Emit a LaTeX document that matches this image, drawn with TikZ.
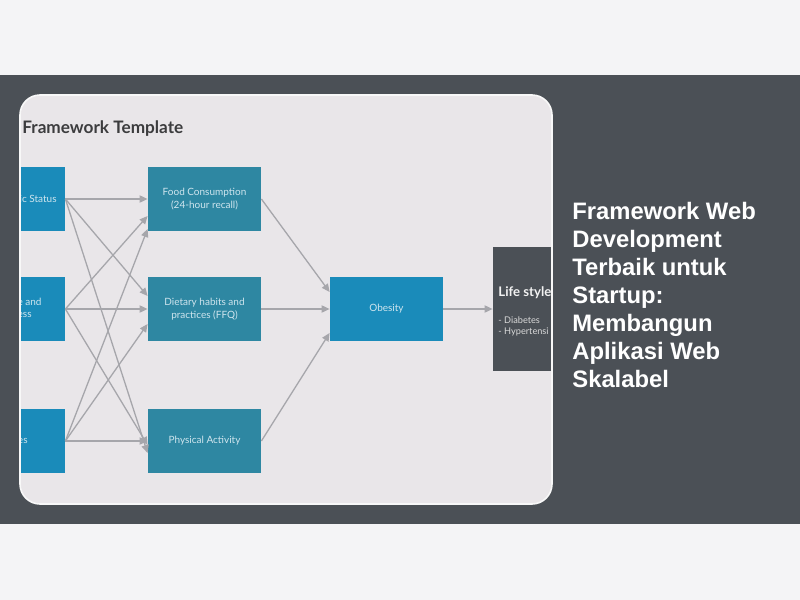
\documentclass[tikz,border=0pt]{standalone}
\usepackage{fontspec}
\setmainfont{Liberation Sans}
\newfontfamily\latofont{Lato}
\usetikzlibrary{arrows.meta}
\definecolor{pagebg}{HTML}{F4F4F6}
\definecolor{bandgray}{HTML}{4B5056}
\definecolor{cardbg}{HTML}{E9E6E9}
\definecolor{srcblue}{HTML}{1A8BBA}
\definecolor{midteal}{HTML}{2E87A2}
\definecolor{linkgray}{HTML}{A6A6AB}
\definecolor{boxtext}{HTML}{CFE5EE}
\definecolor{titlegray}{HTML}{3C3C3E}
\tikzset{
  srcbox/.style={fill=srcblue, minimum width=56.5pt, minimum height=32pt, inner sep=0pt},
  midbox/.style={fill=midteal, minimum width=56.5pt, minimum height=32pt, inner sep=0pt,
    text=boxtext, align=center, font=\latofont\fontsize{5}{6.5}\selectfont},
  boxlabel/.style={text=boxtext, inner sep=0pt, font=\latofont\fontsize{5}{6.5}\selectfont},
  link/.style={draw=linkgray, line width=0.65pt, -{Triangle[length=4pt,width=3.6pt]}}
}
\begin{document}
\begin{tikzpicture}[x=0.5pt,y=0.5pt]
\useasboundingbox (0,0) rectangle (800,-600);
\fill[pagebg] (0,0) rectangle (800,-600);
\fill[bandgray] (0,-75) rectangle (800,-524);
\begin{scope}
\clip[rounded corners=10pt] (20,-95) rectangle (552,-504);
\fill[cardbg] (20,-95) rectangle (552,-504);
\node at (22,-133) [anchor=base west, inner sep=0pt, text=titlegray,
  font=\latofont\bfseries\fontsize{8.6}{10}\selectfont] {Framework Template};
% left column
\node (srctop) at (8.5,-199) [srcbox] {};
\node (srcmid) at (8.5,-309) [srcbox] {};
\node (srcbot) at (8.5,-441) [srcbox] {};
\node at (57,-199) [anchor=east, boxlabel] {ic Status};
\node at (42,-302) [anchor=east, boxlabel] {e and};
\node at (32,-315) [anchor=east, boxlabel] {ess};
\node at (28,-441) [anchor=east, boxlabel] {es};
% middle column
\node (food) at (204.5,-199) [midbox] {Food Consumption\\(24-hour recall)};
\node (diet) at (204.5,-309) [midbox] {Dietary habits and\\practices (FFQ)};
\node (activity) at (204.5,-441) [midbox] {Physical Activity};
% outcome
\node (obesity) at (386.5,-309) [srcbox, text=boxtext, font=\latofont\fontsize{5}{6.5}\selectfont] {Obesity};
\node (lifestyle) at (549.5,-309) [fill=bandgray, minimum width=56.5pt, minimum height=62pt, inner sep=0pt] {};
\node at (498,-296) [anchor=base west, inner sep=0pt, text=white!95!black,
  font=\latofont\bfseries\fontsize{6.6}{8}\selectfont] {Life style};
\node at (498,-320) [anchor=west, inner sep=0pt, text=white!85!black,
  font=\latofont\fontsize{4.6}{6}\selectfont] {- Diabetes};
\node at (498,-332) [anchor=west, inner sep=0pt, text=white!85!black,
  font=\latofont\fontsize{4.6}{6}\selectfont] {- Hypertensi};
\draw[link] (srctop.east) -- (food.west);
\draw[link] (srctop.east) -- ([yshift=6.5pt]diet.west);
\draw[link] (srctop.east) -- ([yshift=-6pt]activity.west);
\draw[link] (srcmid.east) -- ([yshift=-8.5pt]food.west);
\draw[link] (srcmid.east) -- (diet.west);
\draw[link] (srcmid.east) -- ([yshift=-2pt]activity.west);
\draw[link] (srcbot.east) -- ([yshift=-15pt]food.west);
\draw[link] (srcbot.east) -- ([yshift=-7.5pt]diet.west);
\draw[link] (srcbot.east) -- (activity.west);
\draw[link] (food.east) -- ([yshift=8.5pt]obesity.west);
\draw[link] (diet.east) -- (obesity.west);
\draw[link] (activity.east) -- ([yshift=-12pt]obesity.west);
\draw[link] (obesity.east) -- (lifestyle.west);
\end{scope}
\draw[white!70!cardbg, line width=0.8pt, rounded corners=10pt] (20,-95) rectangle (552,-504);
% heading on the right
\node at (572,-202) [anchor=north west, inner sep=0pt, align=left, text=white,
  font=\bfseries\fontsize{11.9}{14}\selectfont]
  {Framework Web\\Development\\Terbaik untuk\\Startup:\\Membangun\\Aplikasi Web\\Skalabel};
\end{tikzpicture}
\end{document}
